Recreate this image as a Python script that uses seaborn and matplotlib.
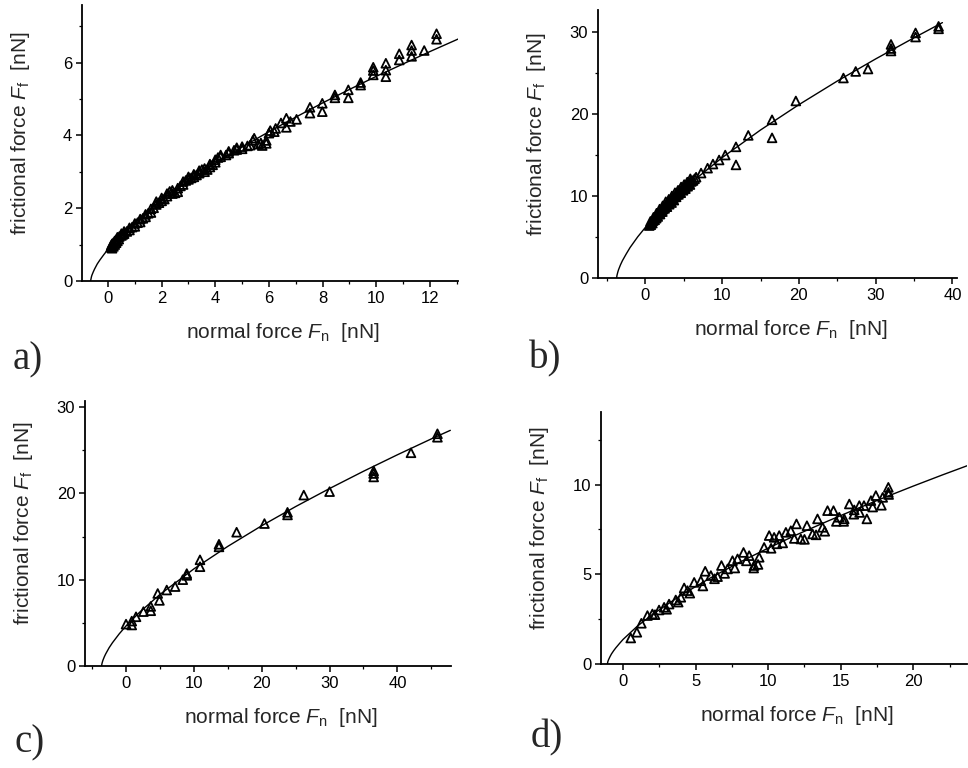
import numpy as np
import matplotlib
matplotlib.use('Agg')
import matplotlib.pyplot as plt
import seaborn as sns
from matplotlib.ticker import MultipleLocator

# ---- panel a ----
a_fn = [0.10, 0.12, 0.15, 0.15, 0.20, 0.20, 0.25, 0.25, 0.30, 0.30, 0.35, 0.35, 0.40, 0.42,
        0.50, 0.50, 0.55, 0.60, 0.60, 0.70, 0.80, 0.80, 0.90, 1.00, 1.00, 1.10, 1.20, 1.20,
        1.30, 1.40, 1.40, 1.50, 1.60, 1.60, 1.70, 1.80, 1.80, 1.90, 2.00, 2.00, 2.10, 2.20,
        2.20, 2.30, 2.40, 2.40, 2.50, 2.60, 2.60, 2.70, 2.80, 2.80, 2.90, 3.00, 3.00, 3.10,
        3.20, 3.20, 3.30, 3.40, 3.40, 3.50, 3.60, 3.60, 3.70, 3.80, 3.80, 3.90, 4.00, 4.00,
        4.10, 4.20, 4.20, 4.40, 4.50, 4.50, 4.70, 4.80, 4.80, 5.00, 5.00, 5.20, 5.30, 5.40,
        5.45, 5.60, 5.70, 5.75, 5.90, 5.90, 6.00, 6.05, 6.20, 6.25, 6.45, 6.65, 6.65, 6.80,
        7.03, 7.53, 7.53, 7.99, 7.99, 8.46, 8.46, 8.96, 8.96, 9.42, 9.42, 9.89, 9.89, 9.89,
        10.36, 10.36, 10.36, 10.86, 10.86, 11.32, 11.32, 11.32, 11.79, 12.25, 12.25]
a_ff = [0.93, 0.98, 0.90, 1.02, 0.95, 1.05, 1.00, 1.10, 1.05, 1.13, 1.10, 1.20, 1.15, 1.22,
        1.25, 1.30, 1.28, 1.30, 1.36, 1.36, 1.40, 1.46, 1.48, 1.50, 1.58, 1.60, 1.62, 1.70,
        1.72, 1.76, 1.83, 1.86, 1.88, 1.98, 2.01, 2.10, 2.18, 2.15, 2.20, 2.28, 2.25, 2.33,
        2.40, 2.46, 2.40, 2.49, 2.42, 2.45, 2.55, 2.61, 2.65, 2.73, 2.76, 2.79, 2.86, 2.83,
        2.86, 2.93, 2.91, 2.96, 3.03, 3.06, 3.00, 3.09, 3.06, 3.13, 3.21, 3.19, 3.26, 3.33,
        3.39, 3.41, 3.46, 3.46, 3.51, 3.56, 3.59, 3.61, 3.66, 3.63, 3.69, 3.71, 3.73, 3.86,
        3.92, 3.76, 3.79, 3.72, 3.86, 3.78, 4.06, 4.13, 4.10, 4.19, 4.34, 4.47, 4.22, 4.38,
        4.44, 4.77, 4.61, 4.88, 4.65, 5.11, 5.03, 5.25, 5.03, 5.45, 5.38, 5.87, 5.78, 5.66,
        5.98, 5.79, 5.61, 6.24, 6.07, 6.48, 6.33, 6.17, 6.33, 6.79, 6.64]
a_fit_x = [-0.65, -0.62, -0.6, -0.55, -0.5, -0.4, -0.3, -0.15, 0, 0.25, 0.5, 1, 2, 3, 4, 5,
           6, 7, 8, 9, 10, 11, 12, 13.1]
a_fit_y = [0, 0.11, 0.16, 0.25, 0.33, 0.47, 0.58, 0.73, 0.87, 1.08, 1.27, 1.62, 2.22, 2.75,
           3.23, 3.68, 4.10, 4.50, 4.89, 5.26, 5.62, 5.96, 6.30, 6.66]

# ---- panel b ----
b_fn = [0.5, 0.6, 0.7, 0.8, 0.9, 1.0, 1.1, 1.2, 1.3, 1.4, 1.5, 1.6, 1.7, 1.8, 1.9, 2.0,
        2.1, 2.2, 2.3, 2.4, 2.5, 2.6, 2.7, 2.8, 2.9, 3.0, 3.1, 3.2, 3.3, 3.4, 3.5, 3.6,
        3.7, 3.8, 3.9, 4.0, 4.1, 4.2, 4.3, 4.4, 4.5, 4.6, 4.7, 4.8, 4.9, 5.0, 5.1, 5.2,
        5.3, 5.4, 5.5, 5.6, 5.7, 5.8, 5.9, 6.0, 6.2, 6.4, 6.6, 7.25, 8.1, 8.8, 9.6, 10.4,
        11.8, 11.8, 13.4, 16.5, 16.5, 19.6, 25.8, 27.4, 29.0, 32.0, 32.0, 32.0, 35.2, 35.2,
        38.2, 38.2,
        0.65, 1.05, 1.45, 1.85, 2.25, 2.65, 3.05, 3.45, 3.85, 4.25, 4.65, 5.05, 5.45, 5.85]
b_ff = [6.4, 6.6, 6.5, 6.8, 6.7, 7.0, 7.2, 7.1, 7.4, 7.3, 7.6, 7.5, 7.8, 7.9, 7.8, 8.1,
        8.3, 8.1, 8.4, 8.6, 8.5, 8.8, 8.9, 8.7, 9.1, 9.2, 9.0, 9.4, 9.4, 9.2, 9.6, 9.7,
        9.5, 9.9, 10.0, 9.9, 10.2, 10.3, 10.2, 10.5, 10.5, 10.4, 10.8, 10.8, 10.7, 11.0, 11.0, 10.9,
        11.2, 11.3, 11.2, 11.5, 11.5, 11.4, 11.8, 11.8, 11.9, 12.1, 12.3, 12.8, 13.4, 13.9, 14.4, 15.0,
        16.0, 13.8, 17.4, 19.3, 17.1, 21.6, 24.4, 25.2, 25.5, 28.5, 28.0, 27.7, 29.9, 29.4,
        30.7, 30.4,
        6.9, 7.4, 7.9, 8.4, 8.8, 9.3, 9.6, 10.0, 10.4, 10.7, 11.1, 11.4, 11.7, 12.1]
b_fit_x = [-3.75, -3.72, -3.7, -3.6, -3.5, -3.25, -3.0, -2.5, -2.0, -1.0, 0, 2, 4, 6, 10,
           15, 20, 25, 30, 35, 38.7]
b_fit_y = [0, 0.25, 0.35, 0.72, 1.02, 1.61, 2.11, 2.94, 3.72, 5.03, 6.18, 8.21, 10.02, 11.68,
           14.69, 18.06, 21.15, 24.03, 26.73, 29.31, 31.16]

# ---- panel c ----
c_fn = [0.0, 0.84, 0.84, 1.47, 2.56, 3.64, 3.64, 4.67, 4.92, 6.0, 7.23, 8.36, 8.95, 8.95,
        10.9, 10.9, 13.7, 13.7, 16.3, 20.4, 23.8, 23.8, 26.2, 30.0, 36.5, 36.5, 36.5, 42.0,
        45.9, 45.9]
c_ff = [4.85, 5.2, 4.75, 5.7, 6.3, 6.9, 6.4, 8.4, 7.6, 8.8, 9.2, 10.0, 10.7, 10.5,
        12.3, 11.5, 14.1, 13.8, 15.5, 16.5, 17.8, 17.5, 19.8, 20.2, 22.6, 22.3, 21.9, 24.7,
        26.9, 26.5]
c_fit_x = [-3.6, -3.58, -3.55, -3.5, -3.4, -3.2, -3.0, -2.5, -2.0, -1.0, 0, 2, 5, 10, 15,
           20, 25, 30, 35, 40, 45, 47.8]
c_fit_y = [0, 0.15, 0.27, 0.43, 0.68, 1.07, 1.40, 2.11, 2.70, 3.73, 4.64, 6.23, 8.29, 11.25,
           13.86, 16.25, 18.47, 20.56, 22.56, 24.47, 26.31, 27.30]

# ---- panel d ----
d_fn = [0.53, 0.95, 1.26, 1.68, 2.02, 2.48, 2.83, 3.17, 3.63, 3.98, 4.21, 4.44, 4.9, 5.36,
        5.66, 6.05, 6.51, 6.78, 7.2, 7.54, 7.89, 8.3, 8.69, 9.03, 9.38, 9.72, 10.07, 10.41,
        10.76, 11.22, 11.56, 11.95, 12.25, 12.67, 13.06, 13.4, 13.75, 14.09, 14.5, 14.9, 15.24,
        15.59, 15.93, 16.28, 16.6, 16.8, 17.08, 17.42, 17.89, 18.28, 18.28,
        2.2, 3.0, 3.8, 4.6, 5.5, 6.3, 7.0, 7.7, 8.5, 9.0, 9.3, 10.2, 10.6, 11.0, 11.8, 12.5,
        13.3, 13.9, 14.7, 15.2, 15.9, 16.3, 17.2, 17.8, 18.3]
d_ff = [1.45, 1.77, 2.27, 2.70, 2.79, 3.01, 3.16, 3.34, 3.57, 3.72, 4.24, 4.09, 4.55, 4.64,
        5.17, 4.93, 4.87, 5.49, 5.30, 5.76, 5.86, 6.22, 6.04, 5.49, 5.95, 6.5, 7.16, 7.06,
        7.16, 7.34, 7.43, 7.81, 6.97, 7.71, 7.25, 8.09, 7.62, 8.55, 8.55, 8.18, 8.09,
        8.92, 8.59, 8.83, 8.83, 8.09, 9.11, 9.39, 9.29, 9.85, 9.57,
        2.75, 3.05, 3.45, 3.95, 4.35, 4.75, 5.05, 5.35, 5.75, 5.35, 5.55, 6.45, 6.7, 6.75, 7.0, 6.95,
        7.2, 7.4, 7.95, 7.95, 8.35, 8.45, 8.75, 8.85, 9.45]
d_fit_x = [-1.08, -1.06, -1.05, -1.0, -0.9, -0.8, -0.65, -0.5, -0.25, 0, 1, 2, 4, 6, 8, 10,
           12, 14, 16, 18, 20, 22, 23.9]
d_fit_y = [0, 0.09, 0.13, 0.24, 0.41, 0.56, 0.74, 0.90, 1.14, 1.37, 2.12, 2.75, 3.84, 4.79,
           5.66, 6.46, 7.22, 7.93, 8.62, 9.28, 9.92, 10.54, 11.11]

sns.set_style('ticks')
plt.rcParams['font.family'] = ['Liberation Sans', 'DejaVu Sans']
plt.rcParams['mathtext.fontset'] = 'custom'
plt.rcParams['mathtext.rm'] = 'Liberation Sans'
plt.rcParams['mathtext.it'] = 'Liberation Sans:italic'

W, H = 968, 768
fig = plt.figure(figsize=(W / 100, H / 100), dpi=100)

# pixel boxes (left, top, right, bottom)
panels = [
    dict(box=(82, 5, 458, 281), fn=a_fn, ff=a_ff, fx=a_fit_x, fy=a_fit_y,
         xlim=(-0.97, 13.05), ylim=(0, 7.58), xmaj=2, xmin=1, ymaj=2, ymin=1,
         letter='a)', lpos=(13, 369)),
    dict(box=(598, 10, 957, 278), fn=b_fn, ff=b_ff, fx=b_fit_x, fy=b_fit_y,
         xlim=(-6.18, 40.6), ylim=(0, 32.7), xmaj=10, xmin=5, ymaj=10, ymin=5,
         letter='b)', lpos=(529, 368)),
    dict(box=(85, 401, 451, 666), fn=c_fn, ff=c_ff, fx=c_fit_x, fy=c_fit_y,
         xlim=(-6.05, 47.9), ylim=(0, 30.7), xmaj=10, xmin=5, ymaj=10, ymin=5,
         letter='c)', lpos=(15, 752)),
    dict(box=(601, 412, 967, 664), fn=d_fn, ff=d_ff, fx=d_fit_x, fy=d_fit_y,
         xlim=(-1.52, 23.7), ylim=(0, 14.05), xmaj=5, xmin=2.5, ymaj=5, ymin=2.5,
         letter='d)', lpos=(531, 747)),
]

for p in panels:
    l, t, r, b = p['box']
    ax = fig.add_axes([l / W, 1 - b / H, (r - l) / W, (b - t) / H])

    sns.lineplot(x=p['fx'], y=p['fy'], sort=False, estimator=None, color='black',
                 linewidth=1.0, ax=ax)
    sns.scatterplot(x=p['fn'], y=p['ff'], marker='^', s=40, color='none',
                    edgecolor='black', linewidth=1.3, ax=ax, zorder=3)

    ax.set_xlim(p['xlim'])
    ax.set_ylim(p['ylim'])
    ax.xaxis.set_major_locator(MultipleLocator(p['xmaj']))
    ax.xaxis.set_minor_locator(MultipleLocator(p['xmin']))
    ax.yaxis.set_major_locator(MultipleLocator(p['ymaj']))
    ax.yaxis.set_minor_locator(MultipleLocator(p['ymin']))
    sns.despine(ax=ax)
    for s in ['left', 'bottom']:
        ax.spines[s].set_linewidth(1.3)
        ax.spines[s].set_color('black')
    ax.tick_params(which='major', direction='out', length=4, width=1.1, labelsize=12,
                   colors='black', pad=3)
    ax.tick_params(which='minor', direction='out', length=2.5, width=0.9, colors='black')

    ax.set_xlabel(r'normal force $F_{\rm n}$  [nN]', fontsize=15)
    ax.set_ylabel(r'frictional force $F_{\rm f}$  [nN]', fontsize=15)
    wpx, hpx = r - l, b - t
    ax.yaxis.set_label_coords(-50 / wpx, 0.5 + 10 / hpx)
    ax.xaxis.set_label_coords(0.5 + 13 / wpx, -40 / hpx)

    fig.text(p['lpos'][0] / W, 1 - p['lpos'][1] / H, p['letter'], fontsize=28,
             family=['Liberation Serif', 'DejaVu Serif'], va='baseline', ha='left')

fig.savefig('out.png', dpi=100, facecolor='white')
